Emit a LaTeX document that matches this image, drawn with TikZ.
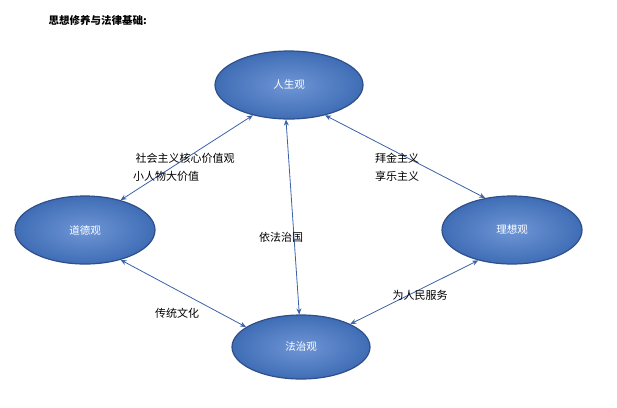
\documentclass[tikz,border=0pt]{standalone}
\usepackage{fontspec}
\setmainfont{Noto Sans CJK SC}
\usetikzlibrary{arrows.meta,shapes.geometric}
\definecolor{ebd}{HTML}{2F4F8A}
\definecolor{efill}{HTML}{3F6DB5}
\definecolor{elight}{HTML}{6F96D6}
\definecolor{arr}{HTML}{3A62A8}
\tikzset{
  bubble/.style={ellipse, draw=ebd, line width=1.2pt, inner color=elight, outer color=efill, minimum width=#1, minimum height=68pt, font=\fontsize{10.5}{12}\selectfont, text=white},
  link/.style={draw=arr, line width=0.8pt, {Stealth[length=6pt,width=5pt]}-{Stealth[length=6pt,width=5pt]}},
  lbl/.style={font=\fontsize{11}{13}\selectfont, text=black, align=center}
}
\begin{document}
\begin{tikzpicture}[x=1pt,y=-1pt]
\useasboundingbox (0,0) rectangle (617,407);
\node[anchor=west, font=\bfseries\fontsize{10.5}{12}\selectfont] (t) at (45,20) {思想修养与法律基础:};
\node[bubble=148pt] (rs) at (289,85) {人生观};
\node[bubble=140pt] (dd) at (85,230) {道德观};
\node[bubble=140pt] (lx) at (512,230) {理想观};
\node[bubble=138pt, minimum height=64pt] (fz) at (301,347) {法治观};
\draw[link] (rs.220) -- (dd.40);
\draw[link] (rs.320) -- (lx.130);
\draw[link] (rs.265) -- (fz.93);
\draw[link] (dd.320) -- (fz.160);
\draw[link] (lx.222) -- (fz.25);
\node[lbl] (l1) at (185,158) {社会主义核心价值观};
\node[lbl] (l2) at (166,176) {小人物大价值};
\node[lbl] (l3) at (397,158) {拜金主义};
\node[lbl] (l4) at (397,176) {享乐主义};
\node[lbl] (l5) at (281,237) {依法治国};
\node[lbl] (l6) at (177,313) {传统文化};
\node[lbl] (l7) at (420,295) {为人民服务};
\end{tikzpicture}
\end{document}
